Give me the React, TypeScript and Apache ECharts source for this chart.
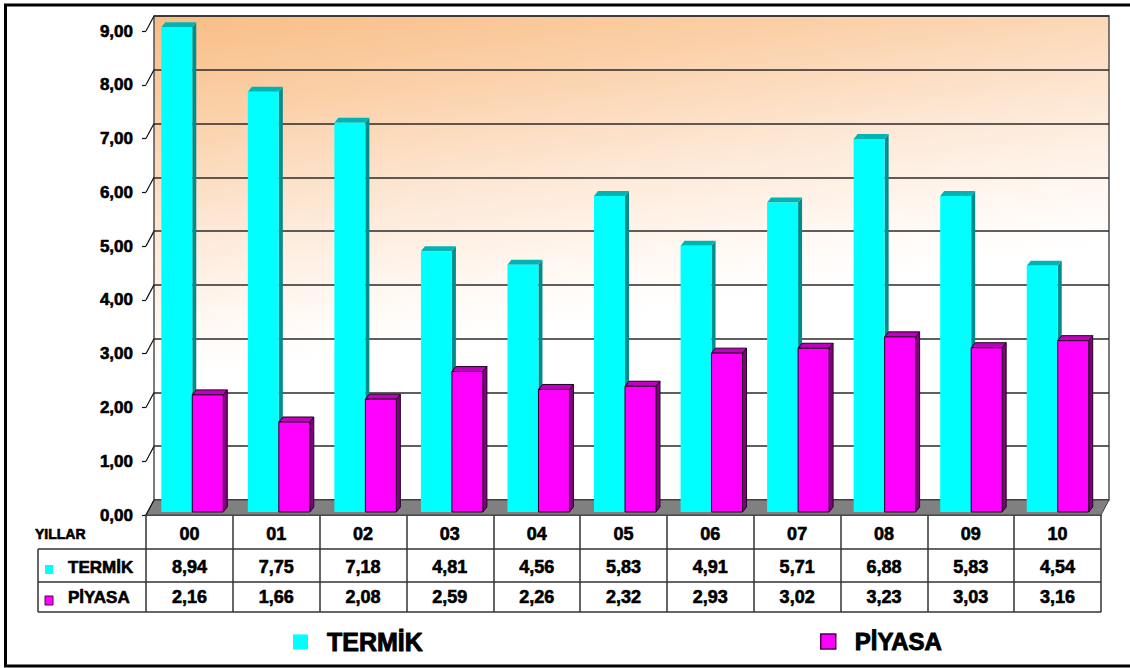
import React, { useEffect, useRef } from "react";
import * as echarts from "echarts";

// Years (two-digit) and yearly values per series
const CATEGORIES = ["00", "01", "02", "03", "04", "05", "06", "07", "08", "09", "10"];
const TERMIK = [8.94, 7.75, 7.18, 4.81, 4.56, 5.83, 4.91, 5.71, 6.88, 5.83, 4.54];
const PIYASA = [2.16, 1.66, 2.08, 2.59, 2.26, 2.32, 2.93, 3.02, 3.23, 3.03, 3.16];
const SERIES_NAMES = ["TERMİK", "PİYASA"];
const Y_MIN = 0;
const Y_MAX = 9;
const Y_STEP = 1;
const Y_TICKS = [0, 1, 2, 3, 4, 5, 6, 7, 8, 9];
const TABLE_HEAD = "YILLAR";

const FONT = "'Liberation Sans', Arial, sans-serif";
// slight outline to give the bold text its heavy look
const HEAVY = { textBorderColor: "#000", textBorderWidth: 0.6 };

// Front plane of the 3D box (axis labels, table) and depth offset to the back wall
const FRONT = { left: 146, top: 31, right: 1101, bottom: 515 };
const DEPTH = { dx: 8, dy: -15 };
// Plane in which the bars' front faces sit
const BARS = { left: 149, top: 24, right: 1101, bottom: 512 };
// Bar depth
const BAR_DX = 4;
const BAR_DY = -5;

const fmt = (v: number) => v.toFixed(2).replace(".", ",");

const PALETTE = [
  { front: "#00ffff", top: "#00b4b4", side: "#008c8c", stroke: "none", key: "#00ffff", keyBorder: "#00ffff" },
  { front: "#ff00ff", top: "#c000c0", side: "#800080", stroke: "#200020", key: "#ff00ff", keyBorder: "#500050" },
];

function barRenderer(seriesIdx: number) {
  const c = PALETTE[seriesIdx];
  return (params: any, api: any) => {
    const i = api.value(0);
    const v = api.value(1);
    const [cx, yTop] = api.coord([i, v]);
    const yBase = api.coord([i, 0])[1];
    const band = api.size([1, 0])[0];
    const bw = band * 0.358;
    const x0 = seriesIdx === 0 ? cx - bw : cx;
    const x1 = x0 + bw;
    const lw = c.stroke === "none" ? 0 : 1;
    return {
      type: "group",
      children: [
        {
          type: "polygon",
          shape: { points: [[x1, yTop], [x1 + BAR_DX, yTop + BAR_DY], [x1 + BAR_DX, yBase + BAR_DY], [x1, yBase]] },
          style: { fill: c.side, stroke: c.stroke, lineWidth: lw },
        },
        {
          type: "polygon",
          shape: { points: [[x0, yTop], [x0 + BAR_DX, yTop + BAR_DY], [x1 + BAR_DX, yTop + BAR_DY], [x1, yTop]] },
          style: { fill: c.top, stroke: c.stroke, lineWidth: lw },
        },
        {
          type: "rect",
          shape: { x: x0, y: yTop, width: bw, height: yBase - yTop },
          style: { fill: c.front, stroke: c.stroke, lineWidth: lw },
        },
      ],
    };
  };
}

// Floor and the short connectors across the left wall at each tick
function frameRenderer(params: any, api: any) {
  const cs = params.coordSys;
  const xl = cs.x;
  const xr = cs.x + cs.width;
  const yb = cs.y + cs.height;
  const children: any[] = [
    {
      type: "polygon",
      shape: {
        points: [
          [xl, yb],
          [xr, yb],
          [xr + DEPTH.dx, yb + DEPTH.dy],
          [xl + DEPTH.dx, yb + DEPTH.dy],
        ],
      },
      style: { fill: "#808080", stroke: "#404040", lineWidth: 1 },
    },
  ];
  Y_TICKS.forEach((t) => {
    const y = api.coord([0, t])[1];
    children.push({
      type: "line",
      shape: { x1: xl, y1: y, x2: xl + DEPTH.dx, y2: y + DEPTH.dy },
      style: { stroke: "#111", lineWidth: 1.2 },
    });
  });
  return { type: "group", children };
}

// Data table rows under the categories
function tableRenderer(params: any, api: any) {
  const cs = params.coordSys;
  const yb = cs.y + cs.height;
  const cx = api.coord([api.value(0), 0])[0];
  const mk = (text: string, y: number) => ({
    type: "text",
    x: cx,
    y,
    style: {
      text,
      font: `bold 18px ${FONT}`,
      fill: "#000",
      stroke: "#000",
      lineWidth: 0.6,
      align: "center",
      verticalAlign: "middle",
    },
  });
  return {
    type: "group",
    children: [mk(fmt(api.value(1)), yb + 52), mk(fmt(api.value(2)), yb + 82)],
  };
}

export default function App() {
  const ref = useRef<HTMLDivElement>(null);

  useEffect(() => {
    document.body.style.margin = "0";
    if (!ref.current) return;
    const chart = echarts.init(ref.current, undefined, { renderer: "svg" });

    const wallGradient = new echarts.graphic.LinearGradient(0, 0, 0.2, 0.7, [
      { offset: 0, color: "#f8bd85" },
      { offset: 0.3, color: "#fbd1aa" },
      { offset: 0.6, color: "#fde8d6" },
      { offset: 0.85, color: "#fff8f2" },
      { offset: 1, color: "#ffffff" },
    ]);

    const tableTop = FRONT.bottom;
    const rowLines = [tableTop + 34, tableTop + 67, tableTop + 97];
    const tableLeft = 38;
    const textStyle = (size: number) => ({
      font: `bold ${size}px ${FONT}`,
      fill: "#000",
      stroke: "#000",
      lineWidth: 0.6,
      verticalAlign: "middle",
    });

    const option: any = {
      animation: false,
      backgroundColor: "#ffffff",
      textStyle: { fontFamily: FONT },
      grid: [
        {
          left: FRONT.left + DEPTH.dx,
          top: FRONT.top + DEPTH.dy,
          width: FRONT.right - FRONT.left,
          height: FRONT.bottom - FRONT.top,
          show: true,
          backgroundColor: wallGradient,
          borderColor: "#505050",
          borderWidth: 1.5,
          outerBoundsMode: "none",
        },
        {
          left: FRONT.left,
          top: FRONT.top,
          width: FRONT.right - FRONT.left,
          height: FRONT.bottom - FRONT.top,
          outerBoundsMode: "none",
        },
        {
          left: BARS.left,
          top: BARS.top,
          width: BARS.right - BARS.left,
          height: BARS.bottom - BARS.top,
          outerBoundsMode: "none",
        },
      ],
      xAxis: [
        { gridIndex: 0, type: "category", data: CATEGORIES, show: false },
        {
          gridIndex: 1,
          type: "category",
          data: CATEGORIES,
          position: "bottom",
          axisLine: { show: true, lineStyle: { color: "#222", width: 1.5 } },
          axisTick: { show: true, length: rowLines[2] - tableTop, interval: 0, lineStyle: { color: "#333", width: 1.5 } },
          axisLabel: { interval: 0, margin: 10, fontSize: 18, fontWeight: "bold", color: "#000", fontFamily: FONT, ...HEAVY },
          splitLine: { show: false },
        },
        { gridIndex: 2, type: "category", data: CATEGORIES, show: false },
      ],
      yAxis: [
        {
          gridIndex: 0,
          type: "value",
          min: Y_MIN,
          max: Y_MAX,
          interval: Y_STEP,
          axisLine: { show: false },
          axisTick: { show: false },
          axisLabel: { show: false },
          splitLine: { show: true, lineStyle: { color: "#2a2a2a", width: 1.5 } },
        },
        {
          gridIndex: 1,
          type: "value",
          min: Y_MIN,
          max: Y_MAX,
          interval: Y_STEP,
          axisLine: { show: false },
          axisTick: { show: true, length: 4, lineStyle: { color: "#111", width: 1.2 } },
          axisLabel: {
            margin: 13,
            fontSize: 17,
            fontWeight: "bold",
            color: "#000",
            fontFamily: FONT,
            ...HEAVY,
            formatter: (v: number) => fmt(v),
          },
          splitLine: { show: false },
        },
        { gridIndex: 2, type: "value", min: Y_MIN, max: Y_MAX, interval: Y_STEP, show: false },
      ],
      legend: [
        {
          left: 288,
          top: 624,
          itemWidth: 15,
          itemHeight: 15,
          selectedMode: false,
          textStyle: { fontSize: 25, fontWeight: "bold", color: "#000", fontFamily: FONT, padding: [0, 0, 0, 14], ...HEAVY, textBorderWidth: 0.9 },
          data: [{ name: SERIES_NAMES[0], icon: "rect", itemStyle: { color: PALETTE[0].key, borderWidth: 0 } }],
        },
        {
          left: 815,
          top: 624,
          itemWidth: 15,
          itemHeight: 15,
          selectedMode: false,
          textStyle: { fontSize: 24, fontWeight: "bold", color: "#000", fontFamily: FONT, padding: [0, 0, 0, 14], ...HEAVY, textBorderWidth: 0.9 },
          data: [
            {
              name: SERIES_NAMES[1],
              icon: "rect",
              itemStyle: { color: PALETTE[1].key, borderColor: PALETTE[1].keyBorder, borderWidth: 1.5 },
            },
          ],
        },
      ],
      series: [
        {
          name: "frame",
          type: "custom",
          xAxisIndex: 1,
          yAxisIndex: 1,
          silent: true,
          z: 1,
          clip: false,
          renderItem: frameRenderer,
          data: [[0, 0]],
        },
        {
          name: SERIES_NAMES[0],
          type: "custom",
          xAxisIndex: 2,
          yAxisIndex: 2,
          z: 3,
          clip: false,
          itemStyle: { color: PALETTE[0].front },
          renderItem: barRenderer(0),
          data: TERMIK.map((v, i) => [i, v]),
        },
        {
          name: SERIES_NAMES[1],
          type: "custom",
          xAxisIndex: 2,
          yAxisIndex: 2,
          z: 4,
          clip: false,
          itemStyle: { color: PALETTE[1].front },
          renderItem: barRenderer(1),
          data: PIYASA.map((v, i) => [i, v]),
        },
        {
          name: "table",
          type: "custom",
          xAxisIndex: 1,
          yAxisIndex: 1,
          silent: true,
          z: 5,
          clip: false,
          renderItem: tableRenderer,
          data: CATEGORIES.map((_, i) => [i, TERMIK[i], PIYASA[i]]),
        },
      ],
      graphic: [
        // outer frame
        { type: "line", shape: { x1: 4, y1: 5, x2: 1130, y2: 5 }, style: { stroke: "#000", lineWidth: 3 } },
        { type: "line", shape: { x1: 5.5, y1: 4, x2: 5.5, y2: 667 }, style: { stroke: "#000", lineWidth: 3 } },
        { type: "line", shape: { x1: 4, y1: 666, x2: 1130, y2: 666 }, style: { stroke: "#000", lineWidth: 3 } },
        // table rules
        ...rowLines.map((y) => ({
          type: "line",
          shape: { x1: tableLeft, y1: y, x2: FRONT.right, y2: y },
          style: { stroke: "#333", lineWidth: 1.5 },
        })),
        {
          type: "line",
          shape: { x1: tableLeft, y1: rowLines[0], x2: tableLeft, y2: rowLines[2] },
          style: { stroke: "#333", lineWidth: 1.5 },
        },
        // table row headers
        { type: "text", x: 35, y: 534, style: { text: TABLE_HEAD, ...textStyle(14) } },
        { type: "rect", shape: { x: 45, y: 565, width: 8, height: 9 }, style: { fill: PALETTE[0].key } },
        { type: "text", x: 68, y: 567, style: { text: SERIES_NAMES[0], ...textStyle(17) } },
        {
          type: "rect",
          shape: { x: 45, y: 596, width: 8, height: 9 },
          style: { fill: PALETTE[1].key, stroke: PALETTE[1].keyBorder, lineWidth: 1 },
        },
        { type: "text", x: 68, y: 597, style: { text: SERIES_NAMES[1], ...textStyle(17) } },
      ],
    };

    chart.setOption(option);
    return () => chart.dispose();
  }, []);

  return <div ref={ref} style={{ width: 1130, height: 668 }} />;
}
